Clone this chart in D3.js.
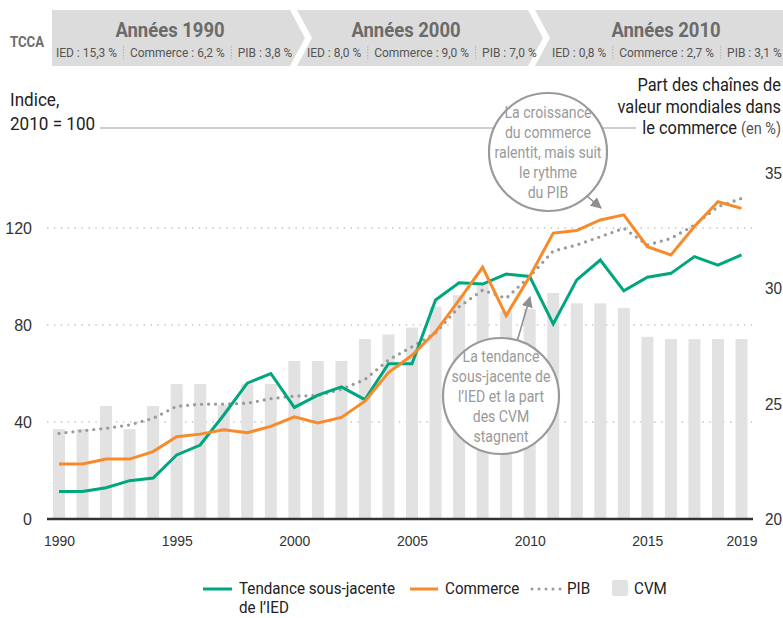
<!DOCTYPE html>
<html><head><meta charset="utf-8">
<script src="https://cdn.jsdelivr.net/npm/d3@7"></script>
<style>
body{margin:0;background:#fff;}
svg{display:block;font-family:'Roboto',sans-serif;}
</style></head><body>
<svg id="c" width="783" height="618"></svg>
<script>
// ---------- DATA ----------
const years = [1990,1991,1992,1993,1994,1995,1996,1997,1998,1999,2000,2001,2002,2003,2004,2005,2006,2007,2008,2009,2010,2011,2012,2013,2014,2015,2016,2017,2018,2019];
const ied = [11.3,11.3,12.9,15.8,16.9,26.4,30.5,42.9,56.0,60.0,46.0,51.1,54.5,49.2,64.0,64.0,90.3,97.4,96.9,101.0,100,80.4,98.6,106.8,94.1,99.7,101.3,108.2,104.7,108.9];
const commerce = [22.7,22.7,24.7,24.7,27.8,33.9,35.0,36.8,35.6,38.2,42.1,39.6,41.9,48.6,60.4,67.5,77.2,90.3,103.8,83.9,100,117.9,119.0,123.3,125.4,112.3,108.9,120.6,130.8,128.1];
const pib = [35.3,36.4,37.4,38.8,41.5,46.5,47.3,47.4,47.7,49.6,50.7,50.9,53.5,57.5,65.6,71.0,76.7,87.5,94.4,91.0,100,110.5,113.0,116.4,119.9,113.0,115.7,121.2,128.8,132.2];
const cvm = [23.9,23.9,24.9,23.9,24.9,25.85,25.85,24.95,25.85,25.85,26.85,26.85,26.85,27.8,28.0,28.3,29.2,29.7,30.2,29.0,29.1,29.8,29.35,29.35,29.15,27.9,27.8,27.8,27.8,27.8];
const leftTicks = [0,40,80,120];
const rightTicks = [20,25,30,35];
const xTicks = [1990,1995,2000,2005,2010,2015,2019];
const decades = ["Années 1990","Années 2000","Années 2010"];
const rates = [
  ["IED : 15,3 %","Commerce : 6,2 %","PIB : 3,8 %"],
  ["IED : 8,0 %","Commerce : 9,0 %","PIB : 7,0 %"],
  ["IED : 0,8 %","Commerce : 2,7 %","PIB : 3,1 %"]
];
const legendLabels = ["Tendance sous-jacente","Commerce","PIB","CVM"];
const note1 = ["La croissance","du commerce","ralentit, mais suit","le rythme","du PIB"];
const note2 = ["La tendance","sous-jacente de","l’IED et la part","des CVM","stagnent"];

// ---------- SETUP ----------
const svg = d3.select("#c");
const GREEN = "#00a67e", ORANGE = "#f78b2b", DOT = "#9b9b9b", BAR = "#e2e2e2";
const x = d3.scaleLinear().domain([1990,2019]).range([59,741.5]);
const yL = d3.scaleLinear().domain([0,160]).range([519,131]);
const yR = d3.scaleLinear().domain([20,35]).range([519,173]);

// horizontal condensing of a text element around its anchor x
function sq(t, k, ax) {
  if (ax === undefined) ax = +t.attr("x") || +t.select("tspan").attr("x") || 0;
  t.attr("transform", `translate(${ax},0) scale(${k},1) translate(${-ax},0)`);
  return t;
}

// ---------- BANNER ----------
const bTop = 10, bBot = 66, bMid = 38;
const segs = [
  [[52,bTop],[290,bTop],[305,bMid],[290,bBot],[52,bBot]],
  [[297,bTop],[528,bTop],[543,bMid],[528,bBot],[297,bBot],[312,bMid]],
  [[535,bTop],[783,bTop],[783,bBot],[535,bBot],[550,bMid]]
];
svg.selectAll("polygon.seg").data(segs).join("polygon").attr("class","seg")
  .attr("points", d => d.map(p => p.join(",")).join(" ")).attr("fill","#dcdcdc");
sq(svg.append("text").attr("x",10).attr("y",47).text("TCCA")
  .attr("font-size",15).attr("font-weight","bold").attr("fill","#6d6d6d"), 0.88);
const titleX = [170,406,666];
const subStart = [56,307,552];
const KS = 0.92;
decades.forEach((t,i) => {
  sq(svg.append("text").attr("x",titleX[i]).attr("y",37).attr("text-anchor","middle")
    .attr("font-size",21).attr("font-weight","bold").attr("fill","#6b6b6b").text(t), 0.88);
  let cx = subStart[i];
  rates[i].forEach((r,j) => {
    const tx = svg.append("text").attr("x",cx).attr("y",57).attr("font-size",13)
      .attr("fill","#555").text(r);
    const w = tx.node().getComputedTextLength() * KS;
    sq(tx, KS);
    cx += w;
    if (j < 2) {
      svg.append("line").attr("x1",cx+6.5).attr("x2",cx+6.5).attr("y1",46).attr("y2",59)
        .attr("stroke","#b5b5b5").attr("stroke-width",1.2).attr("stroke-dasharray","1.5,1.5");
      cx += 13;
    }
  });
});

// ---------- TITLES ----------
const lt = svg.append("text").attr("font-size",18).attr("fill","#222");
lt.append("tspan").attr("x",10).attr("y",106).text("Indice,");
lt.append("tspan").attr("x",10).attr("y",130).text("2010 = 100");
sq(lt, 0.95, 10);
svg.append("line").attr("x1",100).attr("x2",636).attr("y1",128).attr("y2",128)
  .attr("stroke","#cfcfcf").attr("stroke-width",2);
const rt = svg.append("text").attr("font-size",18).attr("fill","#222").attr("text-anchor","end");
rt.append("tspan").attr("x",781).attr("y",91).text("Part des chaînes de");
rt.append("tspan").attr("x",781).attr("y",113).text("valeur mondiales dans");
const r3 = rt.append("tspan").attr("x",781).attr("y",134);
r3.append("tspan").text("le commerce ");
r3.append("tspan").attr("fill","#555").attr("font-size",16).text("(en %)");
sq(rt, 0.91, 781);

// ---------- GRID ----------
svg.append("g").selectAll("line").data(leftTicks.filter(d=>d>0)).join("line")
  .attr("x1",47).attr("x2",753).attr("y1",d=>yL(d)).attr("y2",d=>yL(d))
  .attr("stroke","#c4c4c4").attr("stroke-width",1.4).attr("stroke-dasharray","1.4,5.5");

// ---------- BARS ----------
svg.append("g").selectAll("rect").data(years).join("rect")
  .attr("x",(d)=>x(d)-6).attr("width",12)
  .attr("y",(d,i)=>yR(cvm[i])).attr("height",(d,i)=>yR(20)-yR(cvm[i]))
  .attr("fill",BAR);

// ---------- LINES ----------
const lineGen = d3.line().x((d,i)=>x(years[i])).y(d=>yL(d));
svg.append("path").datum(pib).attr("d",lineGen).attr("fill","none")
  .attr("stroke",DOT).attr("stroke-width",3.3).attr("stroke-linecap","round").attr("stroke-dasharray","0,7");
svg.append("path").datum(ied).attr("d",lineGen).attr("fill","none")
  .attr("stroke",GREEN).attr("stroke-width",3).attr("stroke-linejoin","miter");
svg.append("path").datum(commerce).attr("d",lineGen).attr("fill","none")
  .attr("stroke",ORANGE).attr("stroke-width",3).attr("stroke-linejoin","miter");

// ---------- AXES ----------
svg.append("line").attr("x1",47).attr("x2",753).attr("y1",yL(0)).attr("y2",yL(0))
  .attr("stroke","#333").attr("stroke-width",2.5);
const gl = svg.append("g").attr("transform","translate(32,0)")
  .call(d3.axisLeft(yL).tickValues(leftTicks).tickSize(0).tickPadding(0));
gl.select(".domain").remove();
gl.selectAll("text").attr("font-size",16).attr("fill","#333").attr("font-family","inherit");
const gr = svg.append("g").attr("transform","translate(765,0)")
  .call(d3.axisRight(yR).tickValues(rightTicks).tickSize(0).tickPadding(0));
gr.select(".domain").remove();
gr.selectAll("text").attr("font-size",17).attr("fill","#333").attr("font-family","inherit")
  .each(function(){ sq(d3.select(this), 0.9, 0); });
const gb = svg.append("g").attr("transform","translate(0,533)")
  .call(d3.axisBottom(x).tickValues(xTicks).tickFormat(d3.format("d")).tickSize(0).tickPadding(2));
gb.select(".domain").remove();
gb.selectAll("text").attr("font-size",15).attr("fill","#333").attr("font-family","inherit")
  .each(function(){ sq(d3.select(this), 0.93, 0); });

// ---------- CALLOUTS ----------
const defs = svg.append("defs");
defs.append("marker").attr("id","ah").attr("viewBox","0 0 10 10").attr("refX",9).attr("refY",5)
  .attr("markerWidth",7).attr("markerHeight",7).attr("orient","auto")
  .append("path").attr("d","M0,0 L10,5 L0,10 z").attr("fill","#8f8f8f");
function callout(cx, cy, r, lines, ax1, ay1, ax2, ay2) {
  svg.append("line").attr("x1",ax1).attr("y1",ay1).attr("x2",ax2).attr("y2",ay2)
    .attr("stroke","#8f8f8f").attr("stroke-width",1.6).attr("marker-end","url(#ah)");
  svg.append("circle").attr("cx",cx).attr("cy",cy).attr("r",r)
    .attr("fill","#fff").attr("stroke","#9a9a9a").attr("stroke-width",2.2);
  const t = svg.append("text").attr("text-anchor","middle").attr("font-size",16).attr("fill","#9a9a9a");
  lines.forEach((l,i)=>{
    t.append("tspan").attr("x",cx).attr("y",cy - 2*20 + i*20 + 6).text(l);
  });
  sq(t, 0.88, cx);
}
callout(548,152,59,note1,580,190,601,208);
callout(501,396,58,note2,516,345,530,297);

// ---------- LEGEND ----------
const KL = 0.95;
const lg = svg.append("g").attr("font-size",16).attr("fill","#222");
lg.append("line").attr("x1",203).attr("x2",232).attr("y1",589).attr("y2",589).attr("stroke",GREEN).attr("stroke-width",3);
const lt1 = lg.append("text").attr("fill","#222");
lt1.append("tspan").attr("x",239).attr("y",594).text(legendLabels[0]);
lt1.append("tspan").attr("x",239).attr("y",613).text("de l’IED");
sq(lt1, KL, 239);
lg.append("line").attr("x1",410).attr("x2",438).attr("y1",589).attr("y2",589).attr("stroke",ORANGE).attr("stroke-width",3);
sq(lg.append("text").attr("x",445).attr("y",594).text(legendLabels[1]), KL);
lg.append("line").attr("x1",532).attr("x2",562).attr("y1",589).attr("y2",589).attr("stroke",DOT)
  .attr("stroke-width",3).attr("stroke-linecap","round").attr("stroke-dasharray","0,7");
sq(lg.append("text").attr("x",567).attr("y",594).text(legendLabels[2]), KL);
lg.append("rect").attr("x",612).attr("y",580).attr("width",16).attr("height",16).attr("rx",2).attr("fill",BAR);
sq(lg.append("text").attr("x",634).attr("y",594).text(legendLabels[3]), KL);
</script>
</body></html>
